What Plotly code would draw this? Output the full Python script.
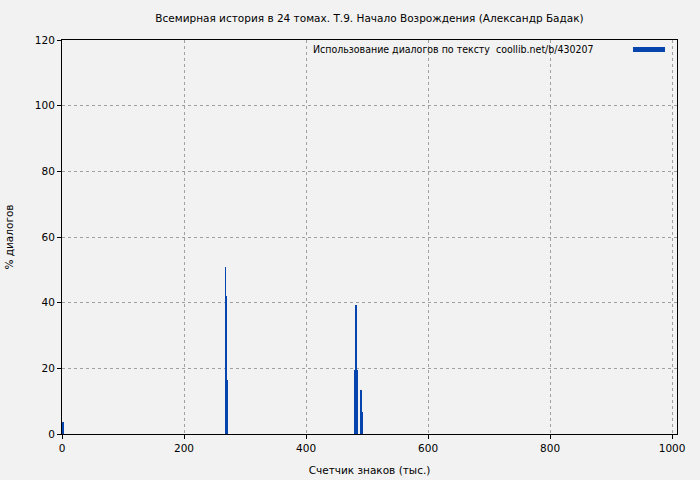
import plotly.graph_objects as go

# Data
positions = [1, 268, 269.2, 270.4, 480.8, 482.4, 484.0, 490.0, 491.2]
values = [3.6, 51, 42, 16.5, 19.5, 39.3, 19.5, 13.5, 6.7]
title = "Всемирная история в 24 томах. Т.9. Начало Возрождения (Александр Бадак)"
legend_text = "Использование диалогов по тексту  coollib.net/b/430207"
x_title = "Счетчик знаков (тыс.)"
y_title = "% диалогов"

bar_color = "#0645ad"
font = dict(family="DejaVu Sans", size=10.5, color="#000000")
legend_font = dict(family="DejaVu Sans Condensed, DejaVu Sans", size=10.5, color="#000000")

fig = go.Figure()
fig.add_trace(go.Bar(x=positions, y=values, width=1.3, marker=dict(color=bar_color, line=dict(width=0)),
                     showlegend=False))

axis_common = dict(showline=True, linecolor="#000000", linewidth=1, mirror=True,
                   ticks="outside", ticklen=4, tickcolor="#000000",
                   showgrid=True, gridcolor="#a0a0a0", griddash="dot", gridwidth=1,
                   zeroline=False, tickfont=font, automargin=False)

fig.update_layout(
    width=700, height=480,
    paper_bgcolor="#f2f2f2", plot_bgcolor="#f2f2f2",
    margin=dict(l=62, r=23, t=40, b=46, autoexpand=False),
    font=font,
    title=dict(text=title, xref="paper", x=0.5, xanchor="center", y=1 - 18 / 480, yanchor="middle",
               font=font, automargin=False),
    xaxis=dict(range=[0, 1008], tickvals=[0, 200, 400, 600, 800, 1000],
               title=dict(text=x_title, font=font, standoff=14), **axis_common),
    yaxis=dict(range=[0, 120], tickvals=[0, 20, 40, 60, 80, 100, 120],
               title=dict(text=y_title, font=font, standoff=19), **axis_common),
    bargap=0,
    showlegend=False,
)

fig.add_annotation(text=legend_text, xref="paper", yref="paper",
                   x=(596 - 62) / 615, y=1 - (49 - 40) / 394, xanchor="right", yanchor="middle",
                   showarrow=False, font=legend_font)
fig.add_shape(type="rect", xref="paper", yref="paper",
              x0=(633 - 62) / 615, x1=(665 - 62) / 615,
              y0=1 - (52 - 40) / 394, y1=1 - (47 - 40) / 394,
              fillcolor=bar_color, line=dict(width=0))

fig.write_html("out.html", config={"displayModeBar": False},
               post_script="document.body.style.margin='0';document.body.style.overflow='hidden';")
